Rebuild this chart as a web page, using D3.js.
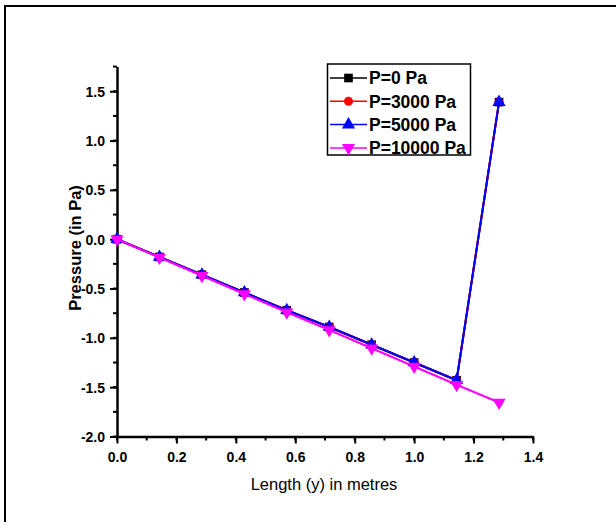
<!DOCTYPE html>
<html><head><meta charset="utf-8">
<script src="https://cdn.jsdelivr.net/npm/d3@7"></script>
<style>html,body{margin:0;padding:0;background:#fff;overflow:hidden}svg{display:block}text{font-family:Arial,"Liberation Sans",sans-serif}</style>
</head><body>
<svg id="c" width="616" height="522"></svg>
<script>
const xValues = [0, 0.1429, 0.2857, 0.4286, 0.5714, 0.7143, 0.8571, 1.0, 1.1429, 1.2857];
const p0 = [0, -0.18, -0.36, -0.54, -0.72, -0.89, -1.07, -1.25, -1.43, 1.39];
const p3000 = [0, -0.18, -0.36, -0.54, -0.72, -0.89, -1.07, -1.25, -1.43, 1.39];
const p5000 = [0, -0.18, -0.36, -0.54, -0.72, -0.89, -1.07, -1.25, -1.43, 1.39];
const p10000 = [0, -0.185, -0.37, -0.555, -0.74, -0.92, -1.105, -1.29, -1.475, -1.655];
const seriesNames = ["P=0 Pa", "P=3000 Pa", "P=5000 Pa", "P=10000 Pa"];
const xTicks = [0, 0.2, 0.4, 0.6, 0.8, 1.0, 1.2, 1.4];
const yTicks = [-2.0, -1.5, -1.0, -0.5, 0.0, 0.5, 1.0, 1.5];

const colors = ["#000000", "#ff0000", "#0000ff", "#ff00ff"];
const symbols = [d3.symbolSquare, d3.symbolCircle, d3.symbolTriangle, "tri-down"];
const series = [p0, p3000, p5000, p10000].map((v, i) => ({name: seriesNames[i], values: v, color: colors[i], sym: symbols[i]}));

const svg = d3.select("#c");
// outer frame (only top and left edges fall inside the picture)
svg.append("path").attr("d", "M5,522V6H616")
  .attr("fill", "none").attr("stroke", "#000").attr("stroke-width", 2);

const x = d3.scaleLinear().domain([0, 1.4]).range([117, 533]);
const y = d3.scaleLinear().domain([-2, 1.75]).range([436.5, 66.6]);

const xMinor = d3.range(0, 1.41, 0.1);
const yMinor = d3.range(-2, 1.76, 0.25);
const fmt = d => d.toFixed(1);

// minor ticks
svg.append("g").selectAll("line").data(xMinor).join("line")
  .attr("x1", d => x(d)).attr("x2", d => x(d)).attr("y1", 436.5).attr("y2", 440.5)
  .attr("stroke", "#000").attr("stroke-width", 2);
svg.append("g").selectAll("line").data(yMinor).join("line")
  .attr("y1", d => y(d)).attr("y2", d => y(d)).attr("x1", 117).attr("x2", 113)
  .attr("stroke", "#000").attr("stroke-width", 2);

const xAxis = svg.append("g").attr("transform", "translate(0,436.5)")
  .call(d3.axisBottom(x).tickValues(xTicks).tickFormat(fmt).tickSize(7).tickSizeOuter(0));
const yAxis = svg.append("g").attr("transform", "translate(117,0)")
  .call(d3.axisLeft(y).tickValues(yTicks).tickFormat(fmt).tickSize(7).tickSizeOuter(0));
[xAxis, yAxis].forEach(a => {
  a.select(".domain").attr("stroke", "#000").attr("stroke-width", 2.5);
  a.selectAll(".tick line").attr("stroke", "#000").attr("stroke-width", 2);
  a.selectAll(".tick text").attr("font-family", "Arial, 'Liberation Sans', sans-serif")
    .attr("font-size", 14).attr("font-weight", "bold").attr("fill", "#000");
});
xAxis.selectAll(".tick text").attr("y", 25.5).attr("dy", 0);
yAxis.selectAll(".tick text").attr("x", -12).attr("dy", "0.36em");

svg.append("text").attr("x", 324).attr("y", 489.5).attr("text-anchor", "middle")
  .attr("font-size", 16.5).attr("fill", "#000").text("Length (y) in metres");
svg.append("text").attr("transform", "translate(80.5,248) rotate(-90)").attr("text-anchor", "middle")
  .attr("font-size", 16.5).attr("font-weight", "bold").attr("fill", "#000").text("Pressure (in Pa)");

const line = d3.line().x((d, i) => x(xValues[i])).y(d => y(d));

function marker(sel, s, size) {
  if (s.sym === "tri-down") {
    sel.append("path").attr("d", d3.symbol(d3.symbolTriangle, size)()).attr("transform", "rotate(180)").attr("fill", s.color);
  } else {
    sel.append("path").attr("d", d3.symbol(s.sym, size)()).attr("fill", s.color);
  }
}

series.forEach(s => {
  const g = svg.append("g");
  g.append("path").datum(s.values).attr("d", line).attr("fill", "none")
    .attr("stroke", s.color).attr("stroke-width", 2);
  g.selectAll("g").data(s.values).join("g")
    .attr("transform", (d, i) => `translate(${x(xValues[i])},${y(d)})`)
    .each(function() { marker(d3.select(this), s, s.sym === d3.symbolCircle ? 64 : 75); });
});

// legend
const lg = svg.append("g");
lg.append("rect").attr("x", 327.5).attr("y", 64).attr("width", 143).attr("height", 91)
  .attr("fill", "#fff").attr("stroke", "#000").attr("stroke-width", 1.5);
series.forEach((s, i) => {
  const yy = 78 + i * 23.3;
  lg.append("line").attr("x1", 330).attr("x2", 367).attr("y1", yy).attr("y2", yy)
    .attr("stroke", s.color).attr("stroke-width", 1.5);
  const m = lg.append("g").attr("transform", `translate(348.5,${yy})`);
  marker(m, s, s.sym === d3.symbolCircle ? 64 : 75);
  lg.append("text").attr("x", 369).attr("y", yy).attr("dy", "0.36em")
    .attr("font-size", 17.5).attr("font-weight", "bold").attr("fill", "#000").text(s.name);
});
</script>
</body></html>
